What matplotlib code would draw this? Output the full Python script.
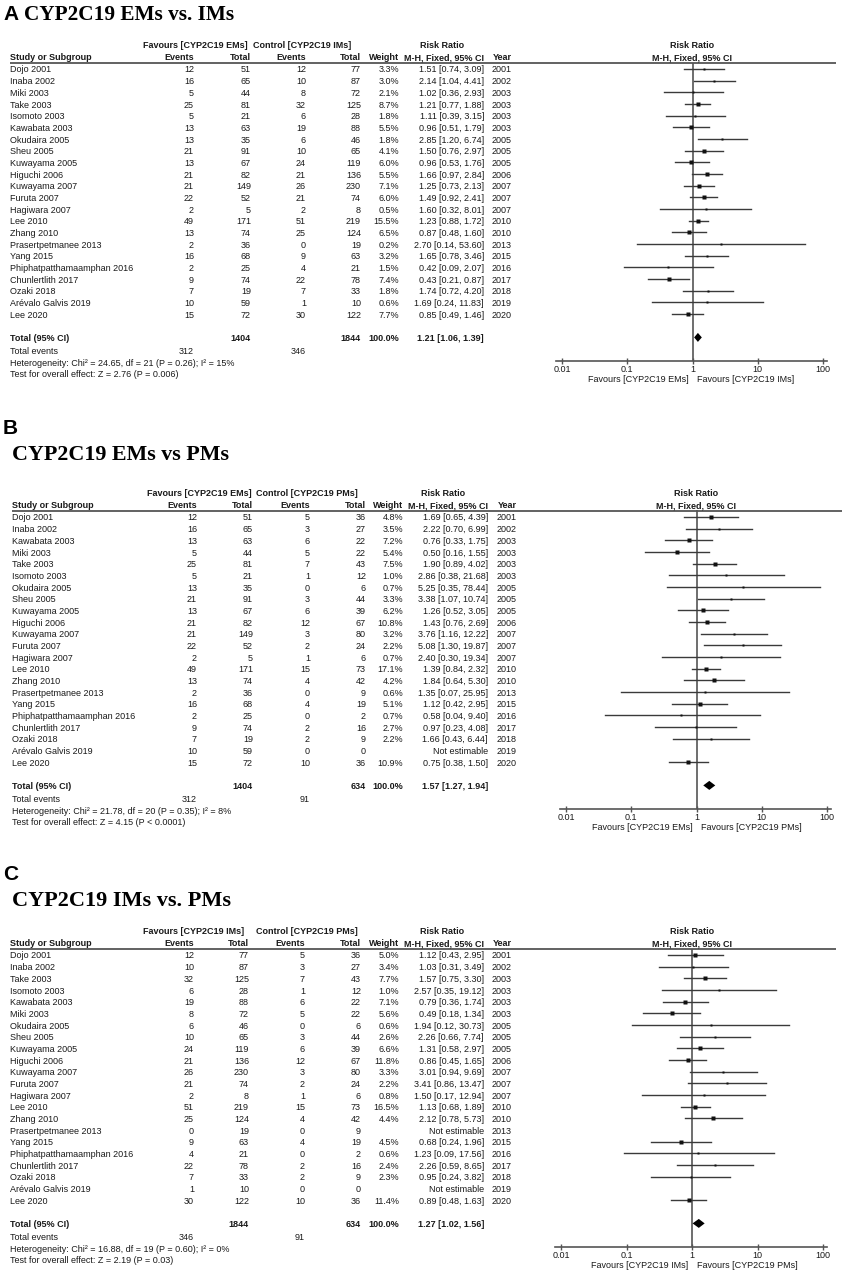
import matplotlib.pyplot as plt
import numpy as np
from matplotlib.ticker import NullLocator

plt.rcParams['font.family'] = ['Liberation Sans', 'DejaVu Sans']

W, H = 844, 1272
FS = 6.5
ROW = 11.67
TXT = '#1a1a1a'
LINE = '#555555'

# ---- data: A  EMs vs IMs ----
studies_A = ["Dojo 2001", "Inaba 2002", "Miki 2003", "Take 2003", "Isomoto 2003", "Kawabata 2003",
             "Okudaira 2005", "Sheu 2005", "Kuwayama 2005", "Higuchi 2006", "Kuwayama 2007",
             "Furuta 2007", "Hagiwara 2007", "Lee 2010", "Zhang 2010", "Prasertpetmanee 2013",
             "Yang 2015", "Phiphatpatthamaamphan 2016", "Chunlertlith 2017", "Ozaki 2018",
             "Arévalo Galvis 2019", "Lee 2020"]
ev1_A = [12, 16, 5, 25, 5, 13, 13, 21, 13, 21, 21, 22, 2, 49, 13, 2, 16, 2, 9, 7, 10, 15]
tot1_A = [51, 65, 44, 81, 21, 63, 35, 91, 67, 82, 149, 52, 5, 171, 74, 36, 68, 25, 74, 19, 59, 72]
ev2_A = [12, 10, 8, 32, 6, 19, 6, 10, 24, 21, 26, 21, 2, 51, 25, 0, 9, 4, 22, 7, 1, 30]
tot2_A = [77, 87, 72, 125, 28, 88, 46, 65, 119, 136, 230, 74, 8, 219, 124, 19, 63, 21, 78, 33, 10, 122]
w_A = [3.3, 3.0, 2.1, 8.7, 1.8, 5.5, 1.8, 4.1, 6.0, 5.5, 7.1, 6.0, 0.5, 15.5, 6.5, 0.2, 3.2, 1.5, 7.4, 1.8, 0.6, 7.7]
rr_A = [1.51, 2.14, 1.02, 1.21, 1.11, 0.96, 2.85, 1.50, 0.96, 1.66, 1.25, 1.49, 1.60, 1.23, 0.87, 2.70,
        1.65, 0.42, 0.43, 1.74, 1.69, 0.85]
lo_A = [0.74, 1.04, 0.36, 0.77, 0.39, 0.51, 1.20, 0.76, 0.53, 0.97, 0.73, 0.92, 0.32, 0.88, 0.48, 0.14,
        0.78, 0.09, 0.21, 0.72, 0.24, 0.49]
hi_A = [3.09, 4.41, 2.93, 1.88, 3.15, 1.79, 6.74, 2.97, 1.76, 2.84, 2.13, 2.41, 8.01, 1.72, 1.60, 53.60,
        3.46, 2.07, 0.87, 4.20, 11.83, 1.46]
total_A = ["1404", "1844", "100.0%", (1.21, 1.06, 1.39)]
events_A = ["312", "346"]
het_A = "Heterogeneity: Chi² = 24.65, df = 21 (P = 0.26); I² = 15%"
test_A = "Test for overall effect: Z = 2.76 (P = 0.006)"

# ---- data: B  EMs vs PMs ----
studies_B = ["Dojo 2001", "Inaba 2002", "Kawabata 2003", "Miki 2003", "Take 2003", "Isomoto 2003",
             "Okudaira 2005", "Sheu 2005", "Kuwayama 2005", "Higuchi 2006", "Kuwayama 2007",
             "Furuta 2007", "Hagiwara 2007", "Lee 2010", "Zhang 2010", "Prasertpetmanee 2013",
             "Yang 2015", "Phiphatpatthamaamphan 2016", "Chunlertlith 2017", "Ozaki 2018",
             "Arévalo Galvis 2019", "Lee 2020"]
ev1_B = [12, 16, 13, 5, 25, 5, 13, 21, 13, 21, 21, 22, 2, 49, 13, 2, 16, 2, 9, 7, 10, 15]
tot1_B = [51, 65, 63, 44, 81, 21, 35, 91, 67, 82, 149, 52, 5, 171, 74, 36, 68, 25, 74, 19, 59, 72]
ev2_B = [5, 3, 6, 5, 7, 1, 0, 3, 6, 12, 3, 2, 1, 15, 4, 0, 4, 0, 2, 2, 0, 10]
tot2_B = [36, 27, 22, 22, 43, 12, 6, 44, 39, 67, 80, 24, 6, 73, 42, 9, 19, 2, 16, 9, 0, 36]
w_B = [4.8, 3.5, 7.2, 5.4, 7.5, 1.0, 0.7, 3.3, 6.2, 10.8, 3.2, 2.2, 0.7, 17.1, 4.2, 0.6, 5.1, 0.7, 2.7, 2.2,
       None, 10.9]
rr_B = [1.69, 2.22, 0.76, 0.50, 1.90, 2.86, 5.25, 3.38, 1.26, 1.43, 3.76, 5.08, 2.40, 1.39, 1.84, 1.35,
        1.12, 0.58, 0.97, 1.66, None, 0.75]
lo_B = [0.65, 0.70, 0.33, 0.16, 0.89, 0.38, 0.35, 1.07, 0.52, 0.76, 1.16, 1.30, 0.30, 0.84, 0.64, 0.07,
        0.42, 0.04, 0.23, 0.43, None, 0.38]
hi_B = [4.39, 6.99, 1.75, 1.55, 4.02, 21.68, 78.44, 10.74, 3.05, 2.69, 12.22, 19.87, 19.34, 2.32, 5.30,
        25.95, 2.95, 9.40, 4.08, 6.44, None, 1.50]
total_B = ["1404", "634", "100.0%", (1.57, 1.27, 1.94)]
events_B = ["312", "91"]
het_B = "Heterogeneity: Chi² = 21.78, df = 20 (P = 0.35); I² = 8%"
test_B = "Test for overall effect: Z = 4.15 (P < 0.0001)"

# ---- data: C  IMs vs PMs ----
studies_C = ["Dojo 2001", "Inaba 2002", "Take 2003", "Isomoto 2003", "Kawabata 2003", "Miki 2003",
             "Okudaira 2005", "Sheu 2005", "Kuwayama 2005", "Higuchi 2006", "Kuwayama 2007",
             "Furuta 2007", "Hagiwara 2007", "Lee 2010", "Zhang 2010", "Prasertpetmanee 2013",
             "Yang 2015", "Phiphatpatthamaamphan 2016", "Chunlertlith 2017", "Ozaki 2018",
             "Arévalo Galvis 2019", "Lee 2020"]
ev1_C = [12, 10, 32, 6, 19, 8, 6, 10, 24, 21, 26, 21, 2, 51, 25, 0, 9, 4, 22, 7, 1, 30]
tot1_C = [77, 87, 125, 28, 88, 72, 46, 65, 119, 136, 230, 74, 8, 219, 124, 19, 63, 21, 78, 33, 10, 122]
ev2_C = [5, 3, 7, 1, 6, 5, 0, 3, 6, 12, 3, 2, 1, 15, 4, 0, 4, 0, 2, 2, 0, 10]
tot2_C = [36, 27, 43, 12, 22, 22, 6, 44, 39, 67, 80, 24, 6, 73, 42, 9, 19, 2, 16, 9, 0, 36]
w_C = [5.0, 3.4, 7.7, 1.0, 7.1, 5.6, 0.6, 2.6, 6.6, 11.8, 3.3, 2.2, 0.8, 16.5, 4.4, None, 4.5, 0.6, 2.4, 2.3,
       None, 11.4]
rr_C = [1.12, 1.03, 1.57, 2.57, 0.79, 0.49, 1.94, 2.26, 1.31, 0.86, 3.01, 3.41, 1.50, 1.13, 2.12, None,
        0.68, 1.23, 2.26, 0.95, None, 0.89]
lo_C = [0.43, 0.31, 0.75, 0.35, 0.36, 0.18, 0.12, 0.66, 0.58, 0.45, 0.94, 0.86, 0.17, 0.68, 0.78, None,
        0.24, 0.09, 0.59, 0.24, None, 0.48]
hi_C = [2.95, 3.49, 3.30, 19.12, 1.74, 1.34, 30.73, 7.74, 2.97, 1.65, 9.69, 13.47, 12.94, 1.89, 5.73, None,
        1.96, 17.56, 8.65, 3.82, None, 1.63]
total_C = ["1844", "634", "100.0%", (1.27, 1.02, 1.56)]
events_C = ["346", "91"]
het_C = "Heterogeneity: Chi² = 16.88, df = 19 (P = 0.60); I² = 0%"
test_C = "Test for overall effect: Z = 2.19 (P = 0.03)"

years = [2001, 2002, 2003, 2003, 2003, 2003, 2005, 2005, 2005, 2006, 2007, 2007, 2007, 2010, 2010, 2013,
         2015, 2016, 2017, 2018, 2019, 2020]
tick_vals = [0.01, 0.1, 1, 10, 100]
tick_labels = ["0.01", "0.1", "1", "10", "100"]


def rr_text(r, l, h):
    if r is None:
        return "Not estimable"
    return "%.2f [%.2f, %.2f]" % (r, l, h)


fig = plt.figure(figsize=(W / 100, H / 100), dpi=100)
bg = fig.add_axes([0, 0, 1, 1])
bg.set_xlim(0, W)
bg.set_ylim(H, 0)
bg.axis('off')


def t(x, y, s, ha='left', bold=False, size=FS, **kw):
    bg.text(x, y, s, ha=ha, va='center_baseline', fontsize=size, color=TXT,
            fontweight='bold' if bold else 'normal', **kw)


def draw_panel(P):
    y0 = P['y0']
    c = P['cols']
    line_y = y0 - 6.5
    h1, h2 = y0 - 24, y0 - 12
    tot_y = y0 + 23 * ROW
    axis_y = y0 + 25 * ROW

    # titles
    bg.text(3, P['letter_y'], P['letter'], fontsize=15, fontweight='bold', va='center_baseline',
            family='Liberation Sans', color='black')
    bg.text(P['title_x'], P['title_y'], P['title'], fontsize=P['title_fs'], fontweight='bold',
            va='center_baseline', family='Liberation Serif', color='black')

    # column headers
    t(P['hdr'][0], h1, "Favours [%s]" % P['g1'], ha='center', bold=True)
    t(P['hdr'][1], h1, "Control [%s]" % P['g2'], ha='center', bold=True)
    t(P['hdr'][2], h1, "Risk Ratio", ha='center', bold=True)
    t(c[0], h2, "Study or Subgroup", bold=True)
    for x, s in zip(c[1:], ["Events", "Total", "Events", "Total", "Weight", "M-H, Fixed, 95% CI", "Year"]):
        t(x, h2, s, ha='right', bold=True)
    bg.plot([c[0], P['line_r']], [line_y, line_y], color=LINE, lw=1.3, solid_capstyle='butt')

    # rows
    for i, name in enumerate(P['studies']):
        y = y0 + i * ROW
        t(c[0], y, name)
        t(c[1], y, str(P['ev1'][i]), ha='right')
        t(c[2], y, str(P['tot1'][i]), ha='right')
        t(c[3], y, str(P['ev2'][i]), ha='right')
        t(c[4], y, str(P['tot2'][i]), ha='right')
        if P['w'][i] is not None:
            t(c[5], y, "%.1f%%" % P['w'][i], ha='right')
        t(c[6], y, rr_text(P['rr'][i], P['lo'][i], P['hi'][i]), ha='right')
        t(c[7], y, str(years[i]), ha='right')

    tot = P['total']
    t(c[0], tot_y, "Total (95% CI)", bold=True)
    t(c[2], tot_y, tot[0], ha='right', bold=True)
    t(c[4], tot_y, tot[1], ha='right', bold=True)
    t(c[5], tot_y, tot[2], ha='right', bold=True)
    t(c[6], tot_y, rr_text(*tot[3]), ha='right', bold=True)
    t(c[0], tot_y + 13.5, "Total events")
    t(c[1], tot_y + 13.5, P['events'][0], ha='right')
    t(c[3], tot_y + 13.5, P['events'][1], ha='right')
    t(c[0], tot_y + 25, P['het'])
    t(c[0], tot_y + 36.5, P['test'])

    # forest plot
    p001, p100 = P['fx']
    dec = (p100 - p001) / 4.0
    left, right = p001 - 6, p100 + 4
    ax = fig.add_axes([left / W, 1 - axis_y / H, (right - left) / W, (axis_y - line_y) / H])
    ax.set_xscale('log')
    ax.set_xlim(10 ** (-2 - 6 / dec), 10 ** (2 + 4 / dec))
    ax.set_ylim(axis_y, line_y)
    ax.patch.set_visible(False)
    for s in ['top', 'left', 'right']:
        ax.spines[s].set_visible(False)
    ax.spines['bottom'].set_color(LINE)
    ax.spines['bottom'].set_linewidth(1.2)
    ax.set_yticks([])
    ax.set_xticks(tick_vals)
    ax.set_xticklabels(tick_labels)
    ax.xaxis.set_minor_locator(NullLocator())
    ax.tick_params(axis='x', direction='inout', length=5, width=1.0, color=LINE, pad=0.5,
                   labelsize=FS, labelcolor=TXT)
    ax.axvline(1, color=LINE, lw=1.2, zorder=1)

    for i in range(len(P['studies'])):
        if P['rr'][i] is None:
            continue
        y = y0 + i * ROW
        ax.plot([P['lo'][i], P['hi'][i]], [y, y], color='#3a3a3a', lw=1.0, zorder=2)
        side = 2.0 + 0.5 * np.sqrt(P['w'][i])
        ax.plot([P['rr'][i]], [y], marker='s', ms=side * 0.72, color='#111111', mec='none', zorder=3)

    est, lo, hi = tot[3]
    ax.fill([lo, est, hi, est], [tot_y, tot_y - 4.5, tot_y, tot_y + 4.5], color='black', lw=0, zorder=3)

    ax.text(1, h1, "Risk Ratio", ha='center', va='center_baseline', fontsize=FS, fontweight='bold',
            color=TXT, clip_on=False)
    ax.text(1, h2, "M-H, Fixed, 95% CI", ha='center', va='center_baseline', fontsize=FS,
            fontweight='bold', color=TXT, clip_on=False)
    ax.text(0.87, axis_y + 18, "Favours [%s]" % P['g1'], ha='right', va='center_baseline', fontsize=FS,
            color=TXT, clip_on=False)
    ax.text(1.18, axis_y + 18, "Favours [%s]" % P['g2'], ha='left', va='center_baseline', fontsize=FS,
            color=TXT, clip_on=False)


panels = [
    dict(letter='A', letter_y=13, title='CYP2C19 EMs vs. IMs', title_x=24, title_y=13, title_fs=15.3,
         y0=69, cols=[10, 194, 251, 306, 361, 399, 484, 512], hdr=[195, 302, 442], line_r=836,
         fx=(562, 823), g1='CYP2C19 EMs', g2='CYP2C19 IMs',
         studies=studies_A, ev1=ev1_A, tot1=tot1_A, ev2=ev2_A, tot2=tot2_A, w=w_A, rr=rr_A, lo=lo_A,
         hi=hi_A, total=total_A, events=events_A, het=het_A, test=test_A),
    dict(letter='B', letter_y=427, title='CYP2C19 EMs vs PMs', title_x=12, title_y=453, title_fs=15.8,
         y0=517, cols=[12, 197, 253, 310, 366, 403, 488, 517], hdr=[199, 307, 443], line_r=842,
         fx=(566, 827), g1='CYP2C19 EMs', g2='CYP2C19 PMs',
         studies=studies_B, ev1=ev1_B, tot1=tot1_B, ev2=ev2_B, tot2=tot2_B, w=w_B, rr=rr_B, lo=lo_B,
         hi=hi_B, total=total_B, events=events_B, het=het_B, test=test_B),
    dict(letter='C', letter_y=872, title='CYP2C19 IMs vs. PMs', title_x=12, title_y=898, title_fs=16.0,
         y0=955, cols=[10, 194, 249, 305, 361, 399, 484, 512], hdr=[194, 307, 442], line_r=836,
         fx=(561, 823), g1='CYP2C19 IMs', g2='CYP2C19 PMs',
         studies=studies_C, ev1=ev1_C, tot1=tot1_C, ev2=ev2_C, tot2=tot2_C, w=w_C, rr=rr_C, lo=lo_C,
         hi=hi_C, total=total_C, events=events_C, het=het_C, test=test_C),
]

for P in panels:
    draw_panel(P)

fig.savefig('out.png', dpi=100)
